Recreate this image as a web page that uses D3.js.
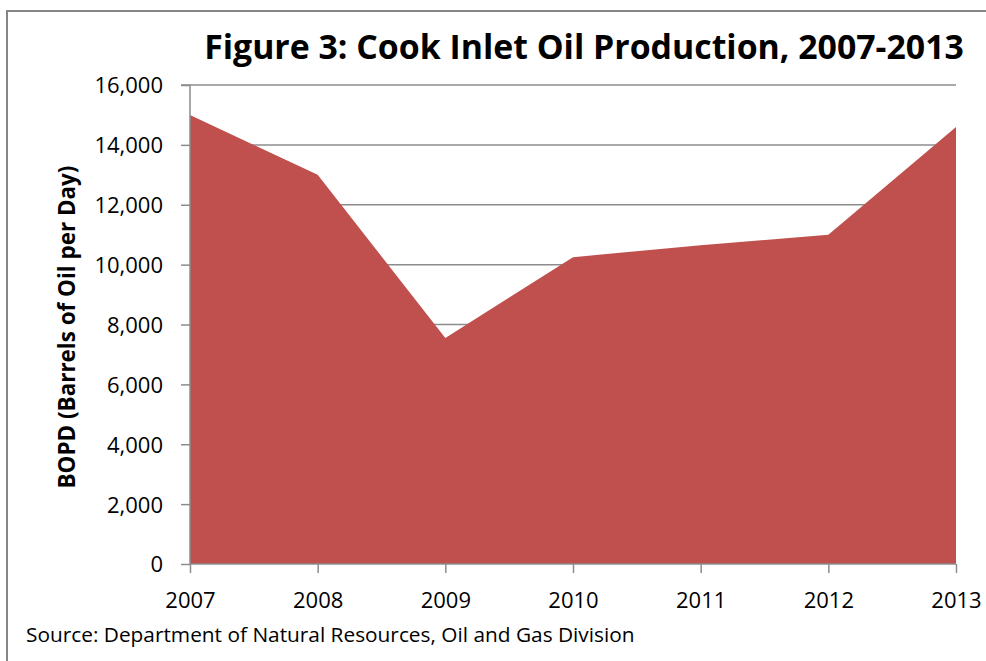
<!DOCTYPE html>
<html>
<head>
<meta charset="utf-8">
<script src="https://cdn.jsdelivr.net/npm/d3@7"></script>
<style>
  html, body { margin: 0; padding: 0; background: #fff; }
  svg { display: block; }
  text { font-family: "Open Sans", Lato, sans-serif; fill: #000; }
</style>
</head>
<body>
<svg id="chart" width="986" height="661"></svg>
<script>
const years = [2007, 2008, 2009, 2010, 2011, 2012, 2013];
const bopd = [15000, 13000, 7550, 10250, 10650, 11000, 14600];
const yTicks = [0, 2000, 4000, 6000, 8000, 10000, 12000, 14000, 16000];
const titleText = "Figure 3: Cook Inlet Oil Production, 2007-2013";
const yAxisLabel = "BOPD (Barrels of Oil per Day)";
const sourceText = "Source: Department of Natural Resources, Oil and Gas Division";

const svg = d3.select("#chart");
const pLeft = 190, pRight = 956, pTop = 85, pBottom = 564;

const x = d3.scaleLinear().domain([2007, 2013]).range([pLeft, pRight]);
const y = d3.scaleLinear().domain([0, 16000]).range([pBottom, pTop]);

// outer frame
svg.append("rect").attr("x", 7).attr("y", 11).attr("width", 990).attr("height", 700)
  .attr("fill", "none").attr("stroke", "#868686").attr("stroke-width", 2);

// gridlines
svg.append("g").selectAll("line").data(yTicks.filter(d => d > 0)).join("line")
  .attr("x1", pLeft).attr("x2", pRight)
  .attr("y1", d => y(d)).attr("y2", d => y(d))
  .attr("stroke", "#8c8c8c").attr("stroke-width", 1.5);

// area
const area = d3.area().x((d, i) => x(years[i])).y0(y(0)).y1(d => y(d));
svg.append("path").datum(bopd).attr("d", area).attr("fill", "#C0504D");

// y axis
const yAxis = d3.axisLeft(y).tickValues(yTicks).tickSize(9).tickPadding(8)
  .tickFormat(d3.format(","));
const gy = svg.append("g").attr("transform", `translate(${pLeft},0)`).call(yAxis);
gy.select(".domain").attr("stroke", "#8c8c8c").attr("stroke-width", 1.5).attr("d", `M-9,${pTop}H0V${pBottom}`);
gy.selectAll(".tick line").attr("stroke", "#8c8c8c").attr("stroke-width", 1.5);
gy.selectAll(".tick text").attr("font-size", 22).attr("font-family", "Open Sans").attr("fill", "#000")
  .attr("dy", "0.36em").attr("x", -27);

// x axis
const xAxis = d3.axisBottom(x).tickValues(years).tickSize(9).tickFormat(d3.format("d"));
const gx = svg.append("g").attr("transform", `translate(0,${pBottom})`).call(xAxis);
gx.select(".domain").attr("stroke", "#8c8c8c").attr("stroke-width", 1.5).attr("d", `M${pLeft},0H${pRight}`);
gx.selectAll(".tick line").attr("stroke", "#8c8c8c").attr("stroke-width", 1.5);
gx.selectAll(".tick text").attr("font-size", 22).attr("font-family", "Open Sans").attr("fill", "#000")
  .attr("y", 44).attr("dy", 0);

// title
const t = svg.append("text").attr("x", 584).attr("y", 59).attr("text-anchor", "middle")
  .attr("font-weight", "bold").attr("font-size", 32).text(titleText);
const tw = t.node().getComputedTextLength();
t.attr("font-size", 32 * 760 / tw);

// y label
const yl = svg.append("text").attr("transform", "translate(75,327) rotate(-90)")
  .attr("text-anchor", "middle").attr("font-weight", "bold").attr("font-size", 18).text(yAxisLabel);
const yw = yl.node().getComputedTextLength();
yl.attr("font-size", 18 * 323 / yw);

// source
const s = svg.append("text").attr("x", 26).attr("y", 642).attr("font-size", 17).text(sourceText);
const sw = s.node().getComputedTextLength();
s.attr("font-size", 17 * 609 / sw);
</script>
</body>
</html>
